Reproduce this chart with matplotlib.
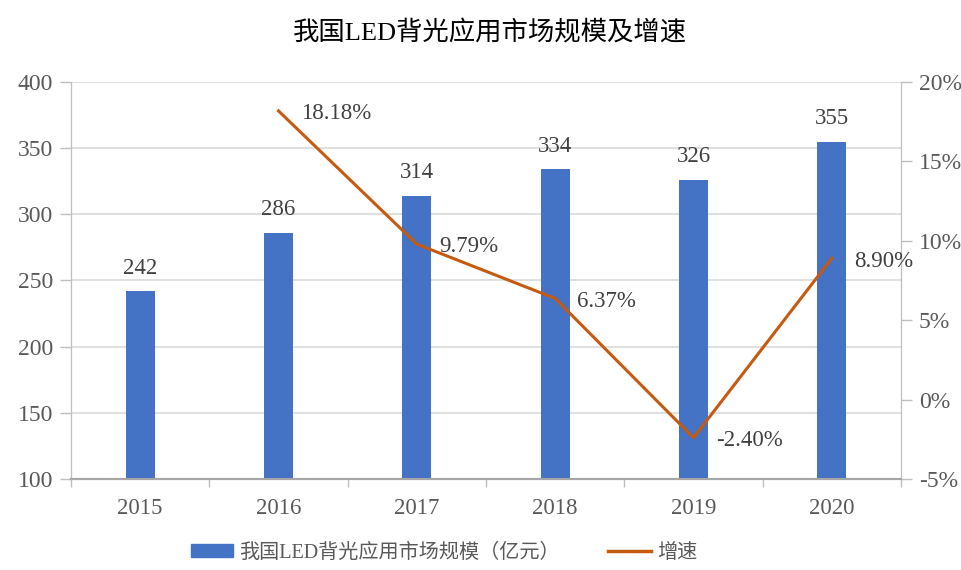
import matplotlib
matplotlib.use("Agg")
import matplotlib.pyplot as plt
import numpy as np

years = ["2015", "2016", "2017", "2018", "2019", "2020"]
market = [242, 286, 314, 334, 326, 355]
growth_years = ["2016", "2017", "2018", "2019", "2020"]
growth = [18.18, 9.79, 6.37, -2.40, 8.90]
left_ticks = [100, 150, 200, 250, 300, 350, 400]
right_ticks = [-5, 0, 5, 10, 15, 20]

FAM = ["Liberation Serif", "Noto Sans CJK SC", "DejaVu Sans"]
plt.rcParams["font.family"] = FAM

BAR = "#4472C4"
LINE = "#C55A11"
TXT = "#404040"
TICK = "#595959"

fig = plt.figure(figsize=(9.62, 5.70), dpi=100)
ax = fig.add_axes([71/962, 1-479/570, (901-71)/962, (479-82)/570])
ax2 = ax.twinx()

x = np.arange(len(years))
ax.bar(x, market, width=0.21, color=BAR, zorder=3)
ax.set_xlim(-0.5, len(years)-0.5)
ax.set_ylim(100, 400)
ax.set_yticks(left_ticks)
ax.set_yticklabels([str(t) for t in left_ticks], fontsize=17, color=TICK)
ax.grid(axis="y", color="#D9D9D9", linewidth=1.2, zorder=0)
ax.set_axisbelow(True)
ax.set_xticks(x)
ax.set_xticklabels(years, fontsize=16.5, color=TICK)
ax.set_xticks(np.arange(len(years)+1)-0.5, minor=True)
ax.tick_params(axis="x", which="major", length=0, pad=14)
ax.tick_params(axis="x", which="minor", length=6, color="#BFBFBF", width=1)
ax.tick_params(axis="y", length=8, color="#BFBFBF", width=1, pad=5)

for i, v in enumerate(market):
    ax.annotate(str(v), (x[i], v), xytext=(0, 9), textcoords="offset points",
                ha="center", va="bottom", fontsize=16.5, color=TXT)

gx = [years.index(y) for y in growth_years]
ax2.plot(gx, growth, color=LINE, linewidth=2.2, zorder=4)
ax2.set_ylim(-5, 20)
ax2.set_yticks(right_ticks)
ax2.set_yticklabels([f"{t}%" for t in right_ticks], fontsize=17, color=TICK)
ax2.tick_params(axis="y", length=8, color="#BFBFBF", width=1, pad=5)
for xi, g in zip(gx, growth):
    ax2.annotate(f"{g:.2f}%", (xi, g), xytext=(16, -2), textcoords="offset points",
                 ha="left", va="center", fontsize=16.5, color=TXT)

for a in (ax, ax2):
    a.spines["top"].set_visible(False)
    a.spines["left"].set_color("#BFBFBF")
    a.spines["right"].set_color("#BFBFBF")
    a.spines["bottom"].set_color("#A6A6A6")
    a.spines["bottom"].set_linewidth(1.5)

fig.text(490/962, 1-33/570, "我国LED背光应用市场规模及增速", ha="center", va="center",
         fontsize=19, color="#000000")

from matplotlib.patches import Patch
from matplotlib.lines import Line2D
handles = [Patch(facecolor=BAR, edgecolor=BAR),
           Line2D([0], [0], color=LINE, linewidth=2.5)]
fig.legend(handles, ["我国LED背光应用市场规模（亿元）", "增速"], loc="center",
           bbox_to_anchor=(444/962, 1-553/570), ncol=2, frameon=False,
           fontsize=14.5, labelcolor=TICK, handlelength=2.1, handleheight=0.6,
           columnspacing=2.4, handletextpad=0.3)

fig.savefig("out.png", dpi=100)
